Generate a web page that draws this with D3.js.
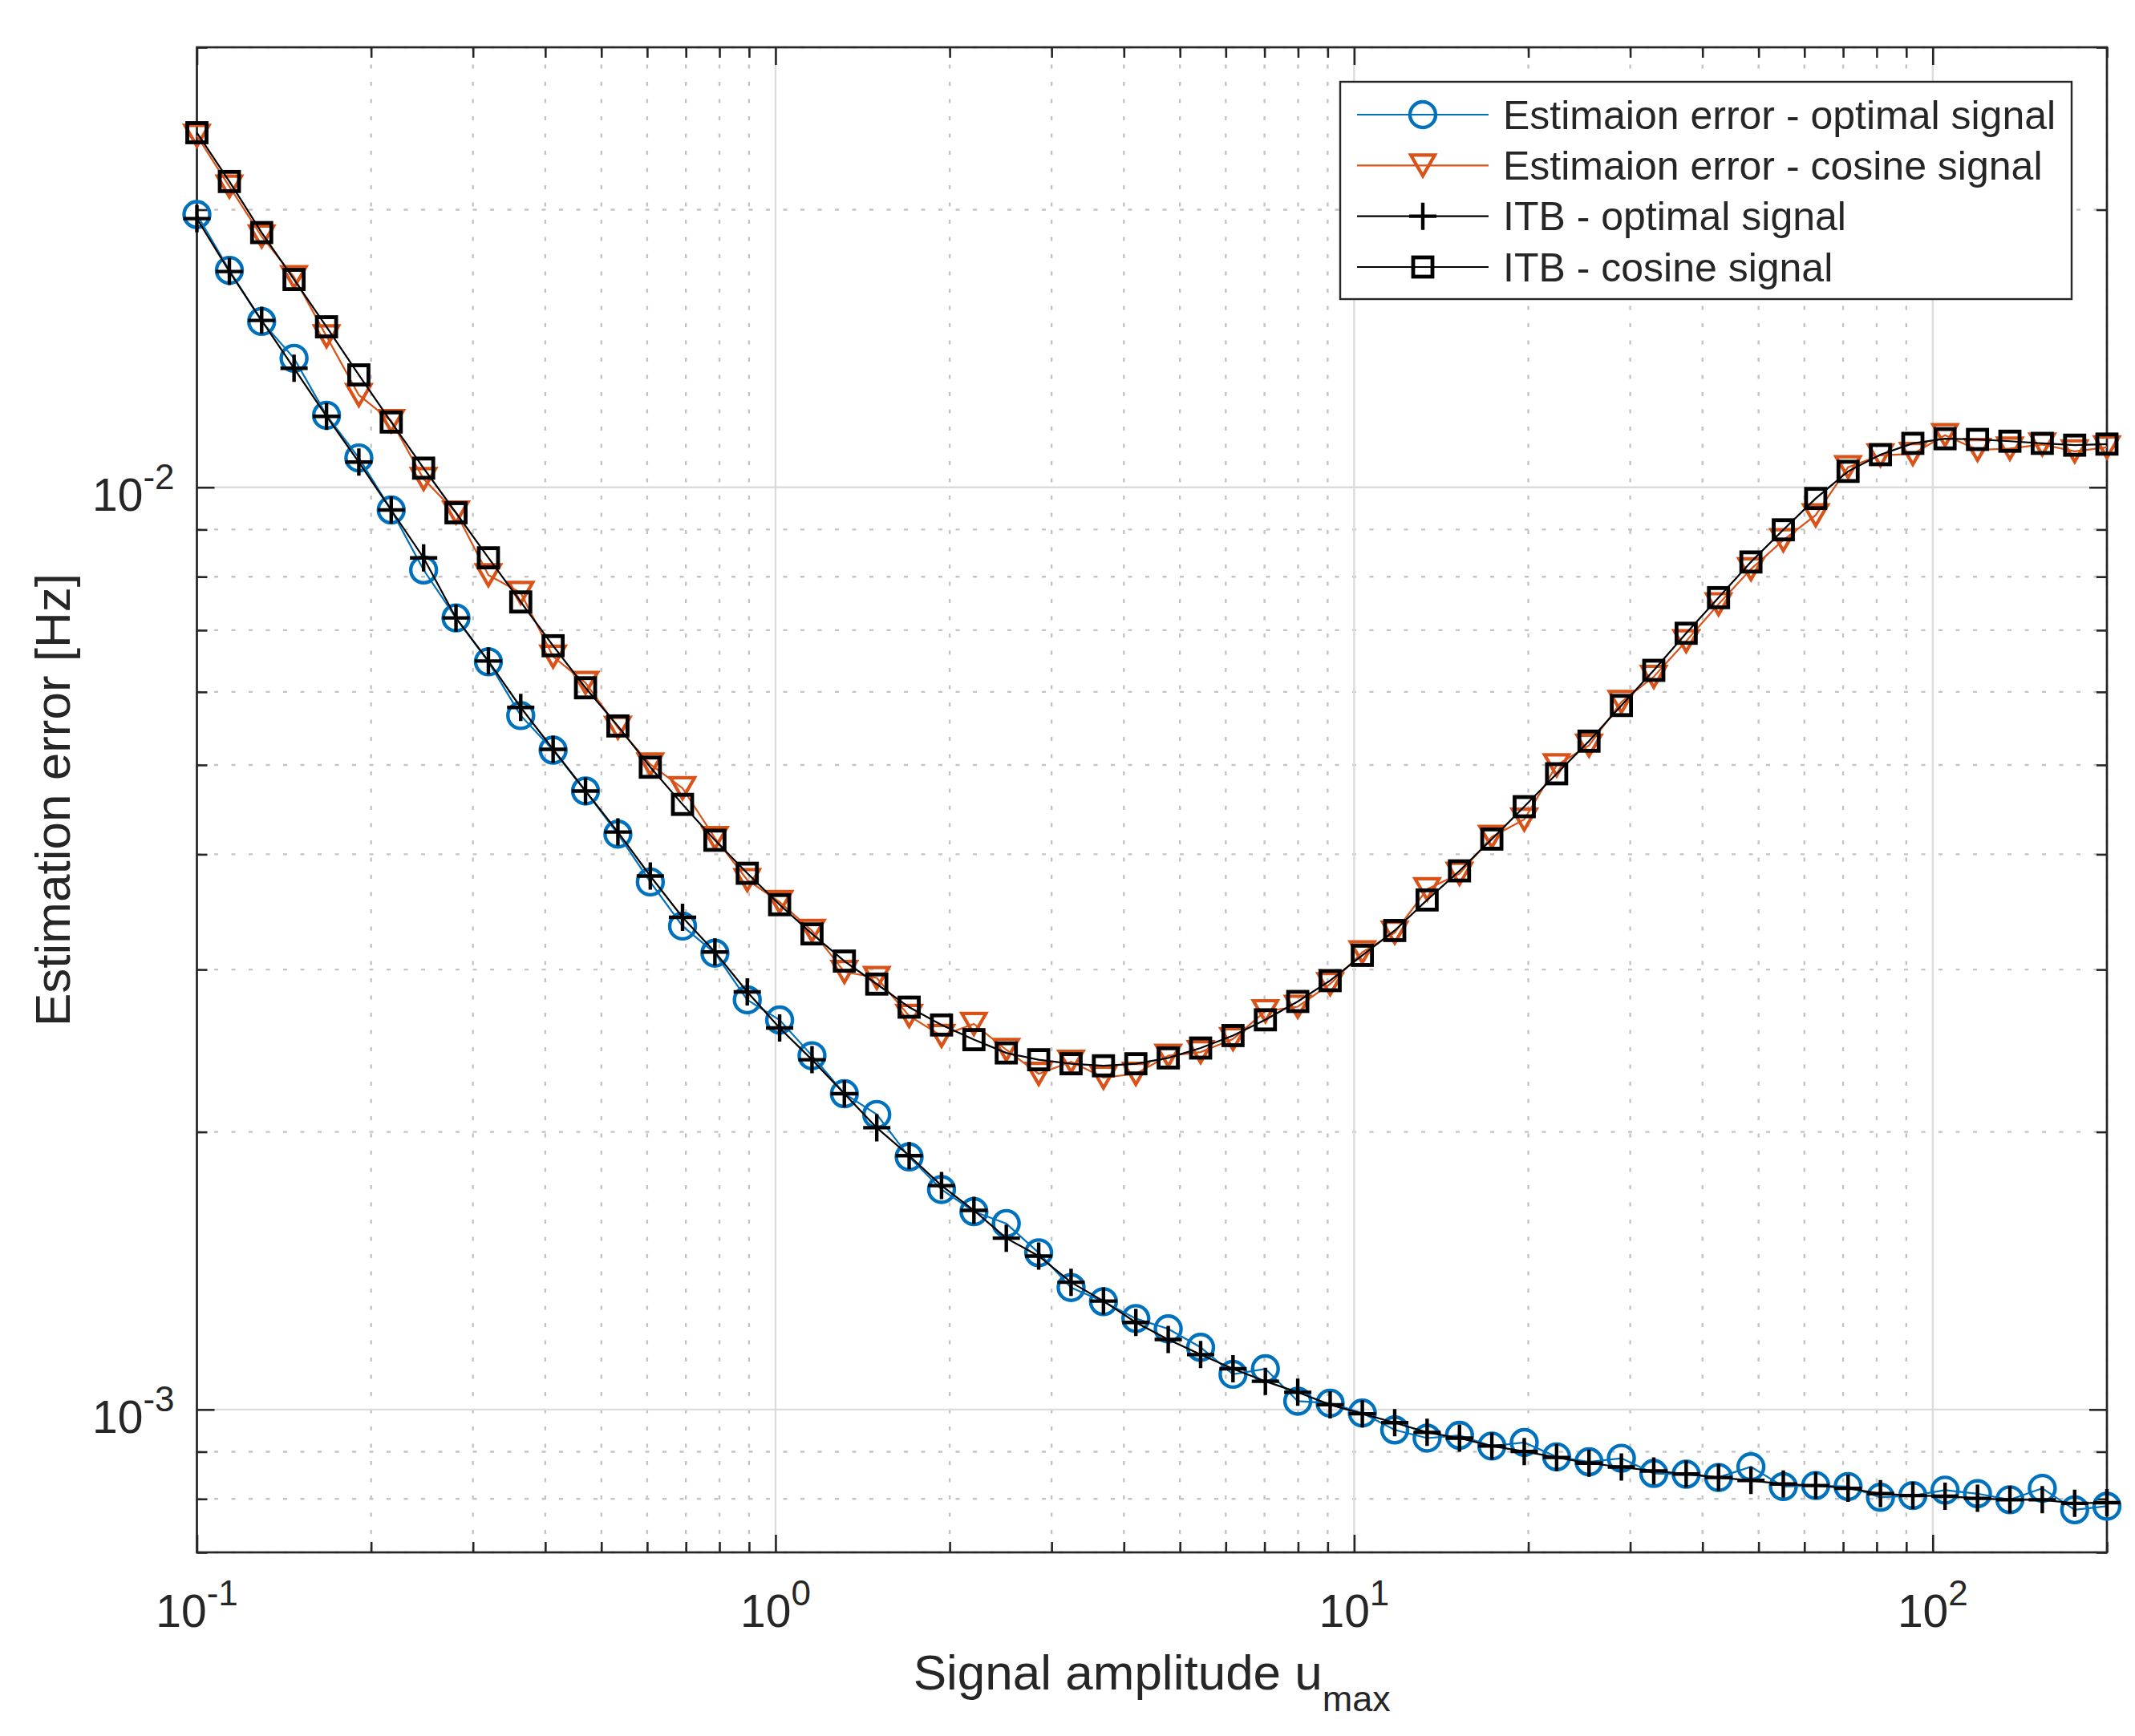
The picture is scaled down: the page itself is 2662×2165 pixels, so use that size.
<!DOCTYPE html>
<html><head><meta charset="utf-8">
<script src="https://cdn.jsdelivr.net/npm/d3@7"></script>
<style>
body{margin:0;background:#fff}
svg{display:block}
text{font-family:"Liberation Sans",Arial,Helvetica,sans-serif;fill:#262626}
</style>
</head><body>
<svg id="chart" width="2662" height="2165"></svg>
<script>
// ---------- data ----------
const amplitude = [0.1,0.1138,0.1294,0.1472,0.1675,0.1905,0.2167,0.2465,0.2804,0.3190,
 0.3628,0.4127,0.4695,0.5341,0.6076,0.6907,0.7857,0.8937,1.0165,1.1563,
 1.3152,1.4962,1.7020,1.9361,2.2024,2.5053,2.8500,3.2420,3.6879,4.1951,
 4.7722,5.4286,6.1753,7.0246,7.9908,9.0899,10.332,11.753,13.370,15.209,
 17.298,19.679,22.385,25.464,28.967,32.951,37.483,42.638,48.503,55.174,
 62.763,71.395,81.214,92.385,105.02,119.50,135.94,154.64,175.91,200.0];

const estOptimal = [0.01976,0.01719,0.01513,0.01380,0.01197,0.01076,0.009449,0.008136,0.007217,0.006468,
 0.005656,0.005188,0.004685,0.004207,0.003733,0.003344,0.003125,0.002781,0.002645,0.002419,
 0.002200,0.002089,0.001879,0.001732,0.001639,0.001591,0.001479,0.001356,0.001309,0.001255,
 0.001223,0.001168,0.001092,0.001107,0.001021,0.001016,0.0009912,0.0009504,0.0009311,0.0009376,
 0.0009128,0.0009210,0.0008886,0.0008776,0.0008855,0.0008525,0.0008508,0.0008439,0.0008667,0.0008251,
 0.0008272,0.0008251,0.0008032,0.0008068,0.0008177,0.0008105,0.0007983,0.0008214,0.0007786,0.0007855];

const estCosine = [0.02405,0.02119,0.01871,0.01690,0.01458,0.01259,0.01180,0.01021,0.009391,0.008031,
 0.007683,0.006553,0.006138,0.005487,0.005007,0.004718,0.004165,0.003751,0.003551,0.003305,
 0.002982,0.002938,0.002672,0.002542,0.002619,0.002455,0.002312,0.002383,0.002291,0.002312,
 0.002419,0.002441,0.002522,0.002704,0.002734,0.002893,0.003132,0.003289,0.003666,0.003810,
 0.004178,0.004363,0.004996,0.005248,0.005851,0.006231,0.006811,0.007469,0.008151,0.008763,
 0.009328,0.010515,0.010832,0.010869,0.011391,0.010980,0.011015,0.011127,0.010942,0.011050];

const itbOptimal = [0.01956,0.01714,0.01517,0.01346,0.01194,0.01065,0.009449,0.008385,0.007217,0.006481,
 0.005772,0.005199,0.004685,0.004229,0.003789,0.003418,0.003134,0.002837,0.002593,0.002395,
 0.002200,0.002021,0.001885,0.001749,0.001644,0.001534,0.001467,0.001374,0.001311,0.001243,
 0.001191,0.001147,0.001107,0.001073,0.001044,0.001012,0.0009894,0.0009676,0.0009445,0.0009311,
 0.0009128,0.0009006,0.0008872,0.0008746,0.0008664,0.0008577,0.0008514,0.0008439,0.0008377,0.0008302,
 0.0008272,0.0008214,0.0008105,0.0008068,0.0008054,0.0008011,0.0007983,0.0007983,0.0007912,0.0007926];

const itbCosine = [0.02424,0.02146,0.01889,0.01680,0.01493,0.01324,0.01177,0.01049,0.009384,0.008386,
 0.007511,0.006733,0.006062,0.005511,0.004972,0.004531,0.004143,0.003815,0.003527,0.003279,
 0.003064,0.002893,0.002731,0.002612,0.002518,0.002436,0.002395,0.002371,0.002359,0.002371,
 0.002406,0.002466,0.002544,0.002646,0.002770,0.002918,0.003108,0.003307,0.003569,0.003838,
 0.004155,0.004505,0.004891,0.005306,0.005800,0.006332,0.006946,0.007592,0.008299,0.008993,
 0.009725,0.010406,0.01085,0.01116,0.01129,0.01127,0.01122,0.01116,0.01111,0.01114];

const seriesNames = ["Estimaion error - optimal signal","Estimaion error - cosine signal",
                     "ITB - optimal signal","ITB - cosine signal"];
const xTickExponents = [-1,0,1,2];
const yTickExponents = [-3,-2];
const xLabel = "Signal amplitude u", xLabelSub = "max";
const yLabel = "Estimation error [Hz]";

// ---------- layout ----------
const P = {left:245.5, right:2627, top:59, bottom:1936};
const INK = "#262626";
const svg = d3.select("#chart");
const x = d3.scaleLog().domain([0.1,200]).range([P.left,P.right]);
const y = d3.scaleLog().domain([7e-4,3e-2]).range([P.bottom,P.top]);

const xMajor = xTickExponents.map(e=>Math.pow(10,e));
const yMajor = yTickExponents.map(e=>Math.pow(10,e));
const xMinor = [], yMinor = [];
[-1,0,1,2].forEach(e=>{ for(let m=2;m<=9;m++){ const v=m*Math.pow(10,e); if(v<=200.0001) xMinor.push(v);} });
[-4,-3,-2].forEach(e=>{ for(let m=2;m<=9;m++){ const v=m*Math.pow(10,e); if(v>=7e-4 && v<=3.0001e-2) yMinor.push(v);} });

// grid
const g = svg.append("g");
g.selectAll(".gmx").data(xMinor).enter().append("line")
 .attr("x1",d=>x(d)).attr("x2",d=>x(d)).attr("y1",P.top).attr("y2",P.bottom)
 .attr("stroke","#c4c4c4").attr("stroke-width",2.4).attr("stroke-dasharray","5,16.5");
g.selectAll(".gmy").data(yMinor).enter().append("line")
 .attr("y1",d=>y(d)).attr("y2",d=>y(d)).attr("x1",P.left).attr("x2",P.right)
 .attr("stroke","#c4c4c4").attr("stroke-width",2.4).attr("stroke-dasharray","5,16.5");
g.selectAll(".gMx").data(xMajor).enter().append("line")
 .attr("x1",d=>x(d)).attr("x2",d=>x(d)).attr("y1",P.top).attr("y2",P.bottom)
 .attr("stroke","#dcdcdc").attr("stroke-width",2.4);
g.selectAll(".gMy").data(yMajor).enter().append("line")
 .attr("y1",d=>y(d)).attr("y2",d=>y(d)).attr("x1",P.left).attr("x2",P.right)
 .attr("stroke","#dcdcdc").attr("stroke-width",2.4);

// ticks via d3 axes (inward)
function addAxis(gen, tx, ty){
  const a = svg.append("g").attr("transform",`translate(${tx},${ty})`).call(gen);
  a.select(".domain").remove();
  a.selectAll("line").attr("stroke",INK).attr("stroke-width",2.6);
  a.selectAll("text").remove();
}
addAxis(d3.axisBottom(x).tickValues(xMajor).tickSize(-22).tickFormat(""),0,P.bottom);
addAxis(d3.axisBottom(x).tickValues(xMinor).tickSize(-13).tickFormat(""),0,P.bottom);
addAxis(d3.axisTop(x).tickValues(xMajor).tickSize(-22).tickFormat(""),0,P.top);
addAxis(d3.axisTop(x).tickValues(xMinor).tickSize(-13).tickFormat(""),0,P.top);
addAxis(d3.axisLeft(y).tickValues(yMajor).tickSize(-22).tickFormat(""),P.left,0);
addAxis(d3.axisLeft(y).tickValues(yMinor).tickSize(-13).tickFormat(""),P.left,0);
addAxis(d3.axisRight(y).tickValues(yMajor).tickSize(-22).tickFormat(""),P.right,0);
addAxis(d3.axisRight(y).tickValues(yMinor).tickSize(-13).tickFormat(""),P.right,0);

// box
svg.append("rect").attr("x",P.left).attr("y",P.top).attr("width",P.right-P.left).attr("height",P.bottom-P.top)
 .attr("fill","none").attr("stroke",INK).attr("stroke-width",2.7);

// tick labels
xTickExponents.forEach(e=>{
  const t = svg.append("text").attr("x",x(Math.pow(10,e))).attr("y",P.bottom+93)
    .attr("text-anchor","middle").attr("font-size",57);
  t.append("tspan").text("10");
  t.append("tspan").attr("font-size",44).attr("dy",-27).text(String(e));
});
yTickExponents.forEach(e=>{
  const t = svg.append("text").attr("x",P.left-28).attr("y",y(Math.pow(10,e))+29.5)
    .attr("text-anchor","end").attr("font-size",57);
  t.append("tspan").text("10");
  t.append("tspan").attr("font-size",44).attr("dy",-27).text(String(e));
});

// axis labels
const xl = svg.append("text").attr("x",(P.left+P.right)/2).attr("y",2107)
  .attr("text-anchor","middle").attr("font-size",62);
xl.append("tspan").text(xLabel);
xl.append("tspan").attr("font-size",45).attr("dy",27).text(xLabelSub);
svg.append("text").attr("transform",`translate(87,${(P.top+P.bottom)/2}) rotate(-90)`)
  .attr("text-anchor","middle").attr("font-size",62).text(yLabel);

// ---------- series ----------
const BLUE="#0072BD", ORANGE="#D95319", BLACK="#000000";
const markerDefs = {
  circle: sel=>sel.append("circle").attr("r",16).attr("fill","none").attr("stroke-width",4.4),
  triangle: sel=>sel.append("path").attr("d","M-15,-13L15,-13L0,13Z").attr("fill","none").attr("stroke-width",4.2).attr("stroke-linejoin","miter"),
  plus: sel=>sel.append("path").attr("d","M-17,0H17M0,-17V17").attr("fill","none").attr("stroke-width",4.4),
  square: sel=>sel.append("rect").attr("x",-12).attr("y",-12).attr("width",24).attr("height",24).attr("fill","none").attr("stroke-width",4.8)
};
const series = [
  {name:seriesNames[0], values:estOptimal, color:BLUE, marker:"circle"},
  {name:seriesNames[1], values:estCosine, color:ORANGE, marker:"triangle"},
  {name:seriesNames[2], values:itbOptimal, color:BLACK, marker:"plus"},
  {name:seriesNames[3], values:itbCosine, color:BLACK, marker:"square"}
];
const line = d3.line().x(d=>x(d.x)).y(d=>y(d.y));
series.forEach(s=>{
  const pts = amplitude.map((a,i)=>({x:a,y:s.values[i]}));
  const sg = svg.append("g");
  sg.append("path").datum(pts).attr("d",line).attr("fill","none").attr("stroke",s.color).attr("stroke-width",2.2);
  const m = sg.selectAll("g.m").data(pts).enter().append("g")
    .attr("transform",d=>`translate(${x(d.x)},${y(d.y)})`).attr("stroke",s.color);
  markerDefs[s.marker](m);
});

// ---------- legend ----------
const L = {x0:1671, y0:102, x1:2583, y1:373};
svg.append("rect").attr("x",L.x0).attr("y",L.y0).attr("width",L.x1-L.x0).attr("height",L.y1-L.y0)
  .attr("fill","#fff").attr("stroke",INK).attr("stroke-width",2.4);
const rowY = d3.scaleLinear().domain([0,3]).range([143,333]);
series.forEach((s,i)=>{
  const yy = rowY(i);
  svg.append("line").attr("x1",1692).attr("x2",1856).attr("y1",yy).attr("y2",yy).attr("stroke",s.color).attr("stroke-width",2.2);
  const mg = svg.append("g").attr("transform",`translate(1774,${yy})`).attr("stroke",s.color);
  markerDefs[s.marker](mg);
  svg.append("text").attr("x",1874).attr("y",yy+17.5).attr("font-size",50).text(s.name);
});
</script>
</body></html>
